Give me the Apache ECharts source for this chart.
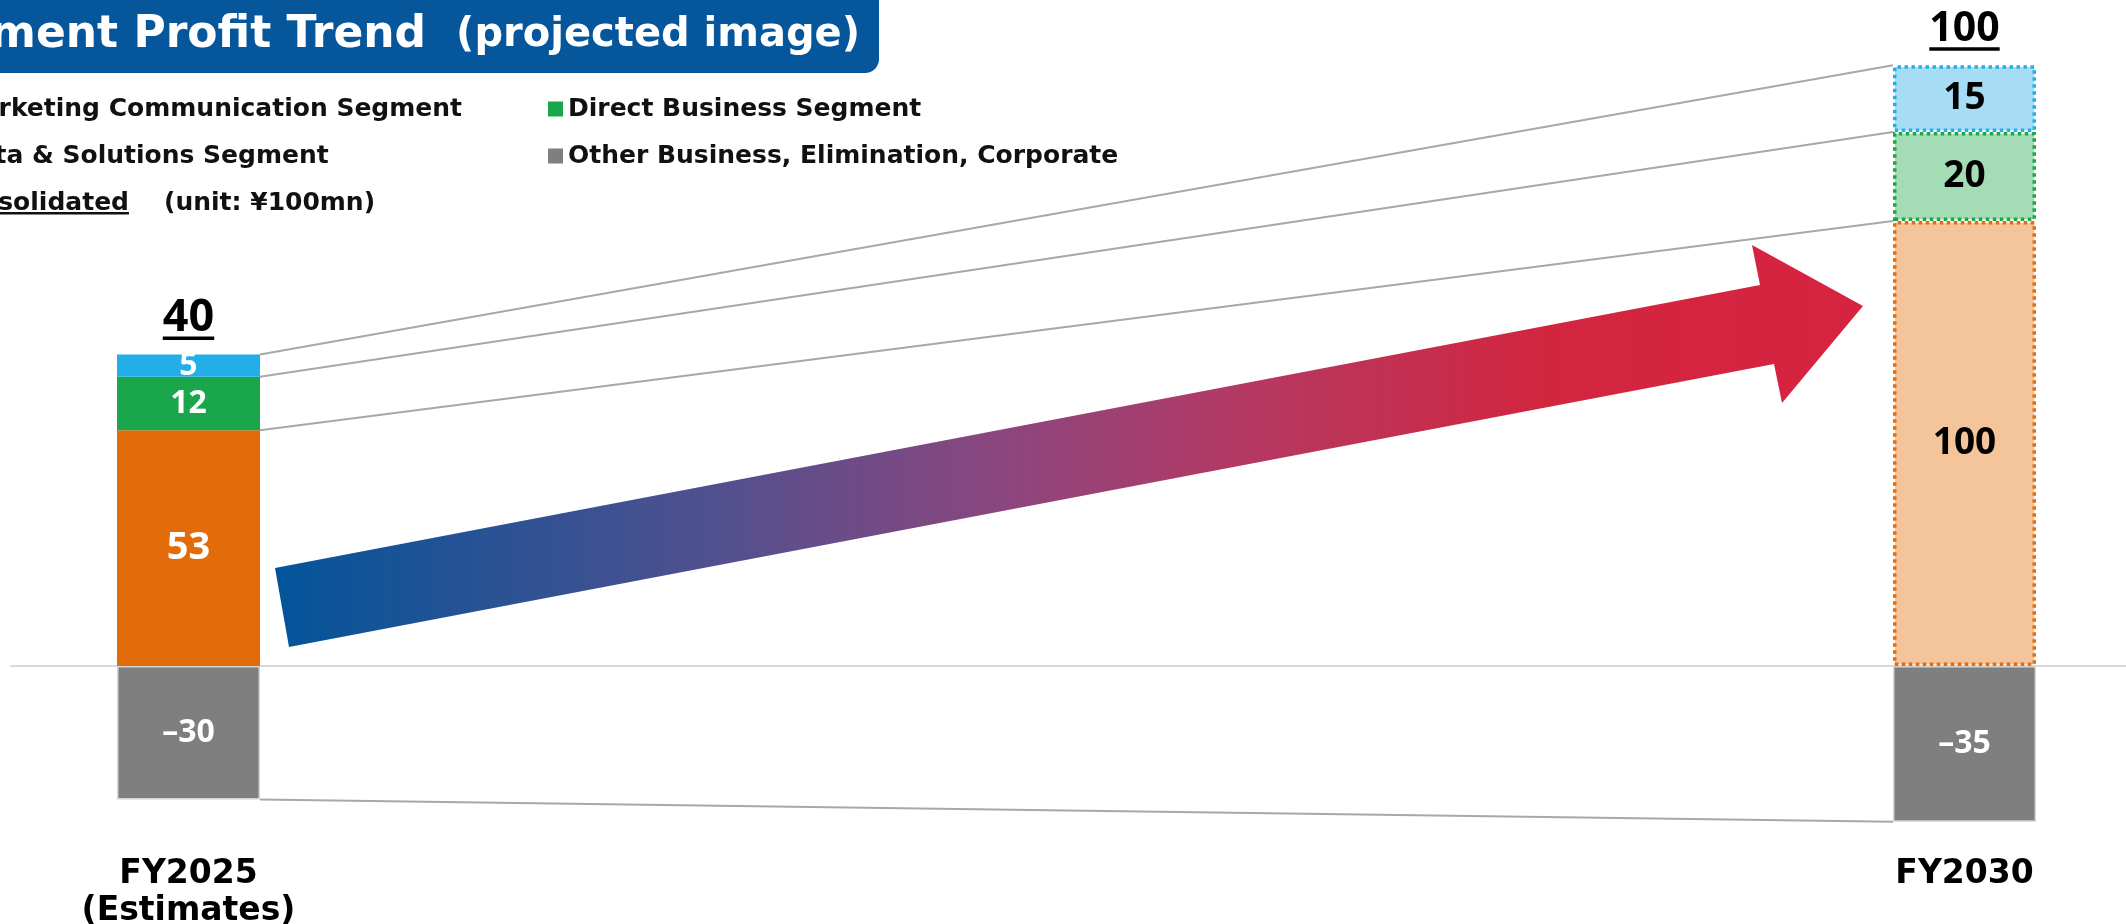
<!DOCTYPE html>
<html><head><meta charset="utf-8">
<script src="https://cdn.jsdelivr.net/npm/echarts@6/dist/echarts.min.js"></script>
<style>html,body{margin:0;padding:0;background:#fff}#chart{width:2126px;height:924px}</style>
</head><body><div id="chart"></div>
<script>
// ---------- data ----------
const categories = ['FY2025\n(Estimates)', 'FY2030'];
const seriesNames = ['Marketing Communication Segment', 'Direct Business Segment', 'Data & Solutions Segment', 'Other Business, Elimination, Corporate'];
const marketingComm = [53, 100];
const directBusiness = [12, 20];
const dataSolutions = [5, 15];
const otherBusiness = [-30, -35];
const yAxisMin = -40;
const yAxisMax = 140;
const titleMain = 'Segment Profit Trend';
const titleSub = '(projected image)';
const consolidatedLabel = 'Consolidated';
const unitNote = '(unit: ¥100mn)';

// ---------- styles ----------
const solid = ['#E36C0A', '#1AA64A', '#22AEE6', '#7F7F7F'];
const light = ['#F4C49A', '#A4DCB5', '#A7DDF4', '#7F7F7F'];
const BAR_W = 143;
const legendFont = 'DejaVu Sans';
const legendSize = 25;

const _ctx = document.createElement('canvas').getContext('2d');
function textWidth(t, font) { _ctx.font = font; return _ctx.measureText(t).width; }

const allSeries = [marketingComm, directBusiness, dataSolutions, otherBusiness];

function barSeries(idx) {
  const values = allSeries[idx];
  return {
    name: seriesNames[idx], type: 'bar', stack: 'total', xAxisIndex: 0, yAxisIndex: 0,
    barWidth: BAR_W, clip: false, z: 2 + idx * 0.1,
    itemStyle: { color: solid[idx] },
    data: values.map((v, i) => {
      let itemStyle;
      if (idx === 3) itemStyle = { color: solid[3], borderColor: '#D4D4D4', borderWidth: 1.5 };
      else if (i === 0) itemStyle = { color: solid[idx], borderWidth: 0 };
      else itemStyle = { color: light[idx], borderColor: solid[idx], borderWidth: 3.5, borderType: [3.5, 3.5] };
      let fs = 32;
      if (i === 0 && idx === 0) fs = 38;
      if (i === 1 && idx !== 3) fs = 37;
      return {
        value: v, itemStyle,
        label: {
          show: true, position: 'inside', fontFamily: 'Noto Sans', fontWeight: 'bold', fontSize: fs,
          color: (i === 0 || idx === 3) ? '#FFFFFF' : '#000000',
          formatter: p => (p.value < 0 ? '–' + Math.abs(p.value) : String(p.value))
        }
      };
    })
  };
}

// stack boundaries computed from data
const tops = categories.map((_, i) => marketingComm[i] + directBusiness[i] + dataSolutions[i]);
const totals = categories.map((_, i) => tops[i] + otherBusiness[i]);
const connectorData = [
  [0, marketingComm[0], 1, marketingComm[1]],
  [0, marketingComm[0] + directBusiness[0], 1, marketingComm[1] + directBusiness[1]],
  [0, tops[0], 1, tops[1]],
  [0, otherBusiness[0], 1, otherBusiness[1]]
];
const totalData = categories.map((_, i) => [i, tops[i], totals[i]]);
const totalFontSizes = [45, 41];

const legendTextFont = 'bold ' + legendSize + 'px "' + legendFont + '"';
const leftLegendLeft = 462 - textWidth(seriesNames[0], legendTextFont) - 15 - 5;

const legendCommon = {
  orient: 'vertical', icon: 'rect', itemWidth: 15, itemHeight: 15, itemGap: 21, padding: 0,
  top: 96, selectedMode: false,
  itemStyle: { borderWidth: 0 },
  textStyle: { fontFamily: legendFont, fontWeight: 'bold', fontSize: legendSize, color: '#111', lineHeight: 26 }
};

const consW = textWidth(consolidatedLabel, legendTextFont);

const option = {
  animation: false,
  backgroundColor: '#ffffff',
  grid: [
    { left: 188.5, right: 161.5, top: 43, bottom: 80, containLabel: false, outerBoundsMode: 'none' },
    { left: 11, right: 0, top: 43, bottom: 80, containLabel: false, outerBoundsMode: 'none' }
  ],
  xAxis: [
    { type: 'category', gridIndex: 0, data: categories, boundaryGap: false,
      axisLine: { show: false, onZero: false }, axisTick: { show: false },
      axisLabel: { interval: 0, margin: 12, fontFamily: 'DejaVu Sans', fontWeight: 'bold', fontSize: 33, lineHeight: 37, color: '#000' },
      splitLine: { show: false } },
    { type: 'category', gridIndex: 1, data: categories,
      axisLine: { show: true, onZero: true, lineStyle: { color: '#D9D9D9', width: 2 } },
      axisTick: { show: false }, axisLabel: { show: false }, splitLine: { show: false } }
  ],
  yAxis: [
    { type: 'value', gridIndex: 0, min: yAxisMin, max: yAxisMax, show: false, splitLine: { show: false } },
    { type: 'value', gridIndex: 1, min: yAxisMin, max: yAxisMax, show: false, splitLine: { show: false } }
  ],
  legend: [
    Object.assign({}, legendCommon, { left: leftLegendLeft, data: [seriesNames[0], seriesNames[2]] }),
    Object.assign({}, legendCommon, { left: 548, data: [seriesNames[1], seriesNames[3]] })
  ],
  graphic: [
    { type: 'rect', left: -20, top: -20, shape: { width: 899, height: 93, r: 14 }, style: { fill: '#05569B' }, z: 10 },
    { type: 'text', x: 860, y: 36, z: 11,
      style: { text: '{a|' + titleMain + '}{g|}{b|' + titleSub + '}', align: 'right', verticalAlign: 'middle',
        rich: { a: { fontFamily: 'DejaVu Sans', fontWeight: 'bold', fontSize: 44, fill: '#fff' },
                g: { width: 30 },
                b: { fontFamily: 'DejaVu Sans', fontWeight: 'bold', fontSize: 40, fill: '#fff' } } } },
    { type: 'text', x: 129, y: 203, z: 11,
      style: { text: consolidatedLabel, align: 'right', verticalAlign: 'middle', font: legendTextFont, fill: '#111' } },
    { type: 'rect', x: 129 - consW, y: 212, shape: { width: consW, height: 2.5 }, style: { fill: '#111' }, z: 11 },
    { type: 'text', x: 164, y: 203, z: 11,
      style: { text: unitNote, align: 'left', verticalAlign: 'middle', font: legendTextFont, fill: '#111' } },
    { type: 'polygon', z: 5,
      shape: { points: [[275, 568], [1760, 285], [1752, 245], [1863, 306], [1782, 403], [1774, 364], [289, 647]] },
      style: { fill: new echarts.graphic.LinearGradient(0, 0, 1, 0, [
        { offset: 0, color: '#03549A' },
        { offset: 0.28, color: '#52508E' },
        { offset: 0.46, color: '#8C467E' },
        { offset: 0.6, color: '#B23A65' },
        { offset: 0.8, color: '#D2263F' },
        { offset: 1, color: '#D72340' }
      ]) } }
  ],
  series: [
    barSeries(0), barSeries(1), barSeries(2), barSeries(3),
    { type: 'custom', name: 'connectors', xAxisIndex: 0, yAxisIndex: 0, silent: true, z: 1,
      dimensions: ['x0', 'y0', 'x1', 'y1'], encode: { x: [0, 2], y: [1, 3] },
      data: connectorData,
      renderItem: (params, api) => {
        const p0 = api.coord([api.value(0), api.value(1)]);
        const p1 = api.coord([api.value(2), api.value(3)]);
        return { type: 'line', shape: { x1: p0[0] + BAR_W / 2, y1: p0[1], x2: p1[0] - BAR_W / 2, y2: p1[1] },
          style: { stroke: '#A8A8A8', lineWidth: 2 } };
      } },
    { type: 'custom', name: 'totals', xAxisIndex: 0, yAxisIndex: 0, silent: true, z: 6,
      dimensions: ['x', 'top', 'total'], encode: { x: 0, y: 1 },
      data: totalData,
      renderItem: (params, api) => {
        const p = api.coord([api.value(0), api.value(1)]);
        const txt = String(api.value(2));
        const fs = totalFontSizes[params.dataIndex];
        const w = textWidth(txt, 'bold ' + fs + 'px "Noto Sans"');
        return { type: 'group', children: [
          { type: 'text', x: p[0], y: p[1] - 36,
            style: { text: txt, fontFamily: 'Noto Sans', fontWeight: 'bold', fontSize: fs, fill: '#000', align: 'center', verticalAlign: 'middle' } },
          { type: 'rect', shape: { x: p[0] - w / 2, y: p[1] - 18, width: w, height: 3.5 }, style: { fill: '#000' } }
        ] };
      } }
  ]
};

const chart = echarts.init(document.getElementById('chart'), null, { renderer: 'canvas' });
chart.setOption(option);
</script>
</body></html>
